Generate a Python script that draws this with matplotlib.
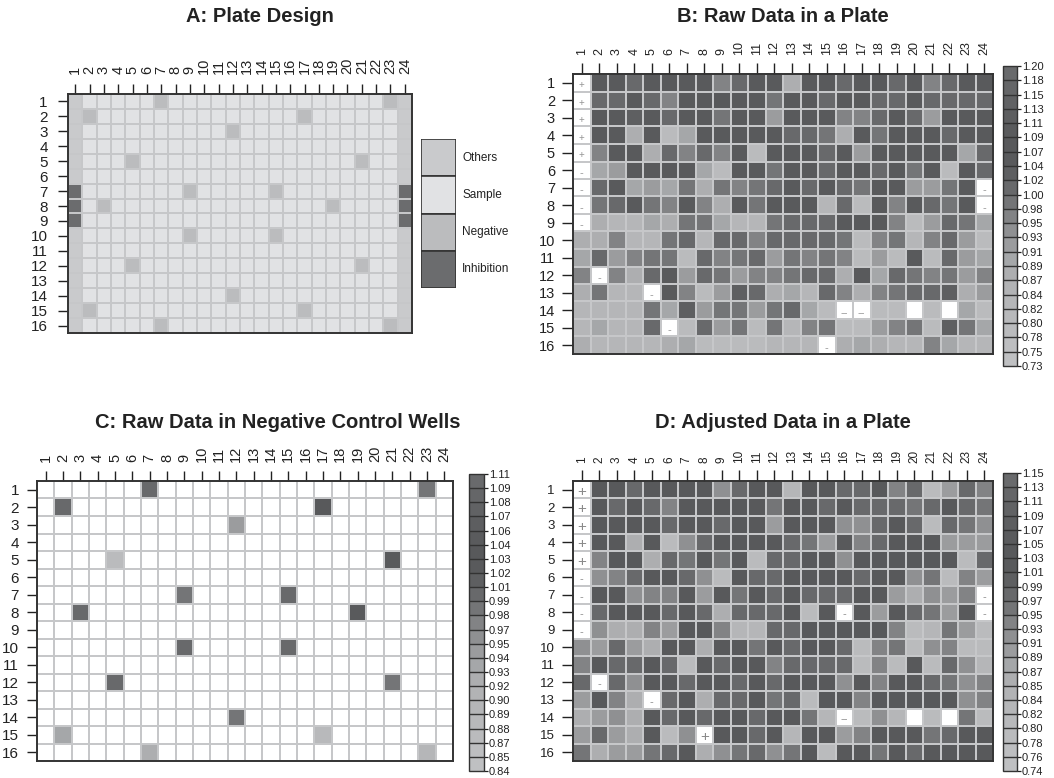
import numpy as np
import matplotlib
matplotlib.use("Agg")
import matplotlib.pyplot as plt
from matplotlib.colors import ListedColormap, BoundaryNorm
from matplotlib.patches import Rectangle

plt.rcParams['font.family'] = ['Liberation Sans', 'DejaVu Sans']
TXT = '#222222'

# ---------------- data ----------------
row_labels = [str(i) for i in range(1, 17)]
col_labels = [str(i) for i in range(1, 25)]

# plate design
design_names = ["Others", "Sample", "Negative", "Inhibition"]
other_cols = [1, 24]
inhibition_rows = [7, 8, 9]
neg_rows = [1, 1, 2, 2, 3, 5, 5, 7, 7, 8, 8, 10, 10, 12, 12, 14, 15, 15, 16, 16]
neg_cols = [7, 23, 2, 17, 12, 5, 21, 9, 15, 3, 19, 9, 15, 5, 21, 12, 2, 17, 7, 23]

# negative control readings (same wells as neg_rows / neg_cols)
neg_values = [1.00, 0.985, 1.00, 1.03, 0.945, 0.875, 1.025, 0.985, 1.00, 0.995,
              1.02, 1.00, 0.995, 1.005, 0.98, 0.985, 0.935, 0.885, 0.925, 0.895]

nan = np.nan
raw_values = [
    [nan, 1.06, 1.05, 1.01, 1.06, 1.07, 1.04, 1.05, 0.96, 1.01, 1.06, 1.05, 0.88, 1.06, 1.05, 1.01, 1.06, 1.07, 1.01, 1.05, 0.96, 1.01, 1.05, 1.06],
    [nan, 1.01, 1.01, 1.06, 1.01, 0.96, 1.05, 1.06, 1.07, 1.05, 1.06, 0.99, 1.05, 1.06, 1.01, 1.05, 1.06, 1.01, 1.01, 1.05, 1.01, 1.01, 1.01, 1.01],
    [nan, 1.05, 1.06, 1.03, 1.05, 1.01, 1.06, 1.05, 0.99, 1.05, 1.06, 0.92, 1.05, 1.06, 1.05, 0.96, 0.96, 1.01, 1.06, 1.01, 0.92, 1.05, 1.06, 1.05],
    [nan, 1.06, 1.05, 0.88, 1.06, 0.79, 0.90, 1.05, 1.06, 1.05, 1.06, 1.05, 1.01, 1.01, 0.99, 0.88, 1.06, 0.99, 1.05, 1.06, 1.05, 1.01, 1.06, 1.05],
    [nan, 0.96, 1.05, 1.06, 0.88, 1.01, 0.96, 1.01, 0.96, 1.06, 0.79, 1.05, 1.06, 1.05, 1.01, 1.06, 0.92, 1.05, 1.06, 1.05, 1.06, 1.05, 0.90, 1.01],
    [nan, 0.90, 0.92, 1.05, 1.06, 1.05, 1.06, 0.90, 0.79, 1.05, 1.06, 0.99, 1.05, 1.06, 1.01, 1.05, 1.06, 1.01, 1.05, 0.99, 1.06, 0.79, 1.05, 1.01],
    [nan, 1.01, 1.06, 0.90, 0.92, 0.90, 0.99, 0.88, 0.99, 0.96, 0.99, 1.01, 1.05, 1.01, 1.06, 1.01, 0.99, 1.05, 1.06, 0.92, 0.92, 0.99, 1.05, nan],
    [nan, 0.99, 1.01, 1.06, 0.99, 0.96, 1.05, 0.96, 0.88, 1.06, 0.99, 1.05, 1.06, 1.05, 0.83, 1.01, 0.79, 1.06, 0.96, 1.05, 1.01, 0.99, 1.06, nan],
    [nan, 0.88, 0.83, 0.83, 0.90, 0.88, 0.99, 0.99, 0.90, 0.83, 0.83, 0.99, 1.01, 1.00, 1.01, 1.05, 1.06, 1.05, 0.96, 0.79, 0.92, 1.01, 0.99, 0.90],
    [0.88, 0.88, 0.96, 0.83, 0.83, 0.99, 1.01, 0.83, 1.00, 1.01, 0.96, 1.01, 1.00, 1.01, 1.01, 0.99, 0.79, 0.96, 0.99, 0.83, 0.96, 1.01, 0.92, 0.79],
    [0.90, 1.00, 0.92, 0.96, 0.99, 0.99, 0.79, 1.00, 0.96, 0.99, 1.00, 0.92, 0.99, 0.96, 0.99, 0.96, 0.79, 0.92, 0.79, 1.06, 0.79, 1.00, 0.92, 0.90],
    [0.96, nan, 0.96, 0.88, 1.01, 1.06, 0.92, 1.00, 0.99, 0.92, 0.96, 0.96, 0.99, 1.01, 1.00, 0.88, 1.06, 0.90, 1.00, 0.99, 0.96, 0.99, 0.92, 0.96],
    [0.88, 0.99, 0.83, 0.83, nan, 1.06, 0.96, 0.79, 0.92, 1.03, 1.01, 0.88, 0.90, 0.83, 1.01, 0.96, 0.88, 0.96, 0.99, 1.01, 1.01, 1.03, 0.88, 0.92],
    [0.83, 0.83, 0.83, 0.83, 0.99, 0.90, 1.03, 0.92, 0.99, 0.99, 0.92, 0.99, 1.00, 0.90, 0.79, nan, nan, 0.79, 0.79, nan, 0.79, nan, 0.90, 0.79],
    [0.83, 0.90, 0.83, 0.83, 1.00, nan, 0.79, 1.01, 0.92, 0.99, 0.79, 0.99, 0.83, 0.96, 0.99, 0.79, 0.79, 0.92, 0.96, 0.99, 0.79, 1.03, 0.99, 0.90],
    [0.88, 0.83, 0.83, 0.83, 0.83, 0.88, 0.90, 0.79, 0.79, 0.79, 0.79, 0.83, 0.83, 0.83, nan, 0.88, 0.90, 0.88, 0.83, 0.83, 0.96, 0.90, 0.83, 0.83],
]

adj_values = [
    [nan, 1.04, 1.03, 0.98, 1.04, 1.03, 1.04, 1.03, 0.92, 0.98, 1.04, 1.03, 0.83, 1.04, 1.03, 0.98, 0.98, 1.04, 0.94, 0.975, 0.79, 0.895, 0.98, 0.94],
    [nan, 1.04, 0.98, 1.04, 0.98, 0.94, 1.03, 1.04, 1.03, 1.04, 1.03, 0.96, 1.04, 1.03, 0.98, 1.04, 0.98, 0.98, 0.98, 0.96, 0.98, 1.04, 0.98, 0.96],
    [nan, 1.04, 1.03, 1.04, 1.03, 0.98, 1.04, 1.03, 0.98, 1.04, 1.03, 0.895, 1.04, 1.03, 1.04, 0.92, 0.92, 0.98, 1.04, 0.98, 0.79, 0.98, 0.96, 0.92],
    [nan, 1.04, 1.03, 0.86, 1.04, 0.79, 0.92, 0.98, 1.04, 1.03, 1.04, 1.03, 0.98, 0.96, 0.895, 1.04, 0.94, 0.98, 1.04, 1.03, 1.04, 0.895, 0.895, 0.895],
    [nan, 0.94, 1.04, 1.03, 0.86, 0.98, 0.96, 1.04, 0.96, 1.04, 0.79, 0.98, 0.98, 1.04, 1.03, 0.92, 1.04, 1.03, 1.04, 1.03, 1.04, 1.03, 0.79, 0.98],
    [nan, 0.92, 0.94, 0.98, 1.04, 1.03, 0.98, 0.92, 0.79, 1.04, 0.98, 0.98, 1.04, 1.03, 1.04, 1.03, 0.98, 1.04, 1.03, 0.92, 0.96, 0.79, 0.94, 0.895],
    [nan, 1.04, 1.03, 0.92, 0.94, 0.94, 1.04, 0.895, 1.04, 0.96, 1.04, 0.98, 1.04, 0.98, 0.98, 0.98, 1.04, 1.03, 0.895, 0.86, 0.92, 0.895, 0.94, nan],
    [nan, 0.98, 1.04, 1.03, 1.04, 0.98, 1.04, 0.98, 0.86, 0.98, 0.975, 0.98, 1.04, 0.79, 1.04, nan, 1.04, 0.895, 1.04, 0.975, 0.96, 0.895, 1.03, nan],
    [nan, 0.92, 0.86, 0.86, 0.94, 0.895, 1.04, 1.03, 0.94, 0.83, 0.83, 0.98, 0.98, 1.04, 1.03, 1.04, 1.03, 1.04, 0.94, 0.79, 0.83, 0.96, 0.895, 0.79],
    [0.92, 0.895, 0.98, 0.895, 0.86, 1.04, 1.03, 0.86, 1.04, 1.03, 0.96, 1.04, 0.98, 1.04, 1.03, 0.98, 0.79, 0.94, 0.96, 0.79, 0.92, 0.94, 0.79, 0.79],
    [0.94, 1.04, 0.975, 0.98, 1.04, 0.98, 0.79, 1.04, 0.98, 1.03, 1.04, 0.94, 0.98, 0.98, 0.98, 0.98, 0.79, 0.94, 0.79, 1.04, 0.79, 0.98, 0.92, 0.83],
    [0.98, nan, 0.98, 0.92, 1.04, 1.03, 0.98, 1.04, 1.03, 0.98, 1.04, 0.975, 1.04, 1.03, 1.04, 0.92, 1.04, 0.94, 1.04, 1.03, 0.98, 0.96, 0.92, 0.94],
    [0.895, 1.04, 0.94, 0.86, nan, 0.98, 1.04, 0.86, 0.98, 0.98, 1.04, 0.96, 0.98, 0.79, 1.04, 1.03, 0.94, 1.04, 1.03, 1.04, 1.03, 1.04, 0.92, 0.94],
    [0.86, 0.895, 0.92, 0.86, 1.04, 0.98, 1.04, 0.975, 1.04, 1.03, 0.98, 1.04, 1.03, 0.96, 0.83, nan, 0.79, 0.92, 0.83, nan, 0.79, nan, 0.96, 0.79],
    [0.895, 0.98, 0.895, 0.86, 1.04, 0.79, 0.92, nan, 1.04, 1.03, 0.98, 1.04, 0.83, 1.04, 1.03, 0.895, 0.94, 1.04, 1.03, 1.04, 0.96, 0.98, 1.04, 1.03],
    [0.96, 0.86, 0.895, 0.895, 0.96, 0.975, 1.04, 0.86, 0.92, 0.96, 0.98, 0.92, 0.96, 1.04, 0.79, 1.04, 1.03, 0.96, 1.04, 0.98, 1.04, 1.03, 1.04, 1.03],
]

# flagged wells: (row, col, mark)
raw_marks = ([(r, 1, '+') for r in range(1, 6)] + [(r, 1, '-') for r in range(6, 10)] +
             [(12, 2, '-'), (13, 5, '-'), (15, 6, '-'), (14, 16, '--'), (14, 17, '--'),
              (16, 15, '-'), (7, 24, '-'), (8, 24, '-')])
adj_marks = ([(r, 1, '+') for r in range(1, 6)] + [(r, 1, '-') for r in range(6, 10)] +
             [(12, 2, '-'), (13, 5, '-'), (15, 8, '+'), (8, 16, '-'), (14, 16, '--'),
              (7, 24, '-'), (8, 24, '-')])

# colour-key boundaries / labels
raw_bounds = ["0.73", "0.75", "0.78", "0.80", "0.82", "0.84", "0.87", "0.89", "0.91", "0.93", "0.95",
              "0.98", "1.00", "1.02", "1.04", "1.07", "1.09", "1.11", "1.13", "1.15", "1.18", "1.20"]
neg_bounds = ["0.84", "0.85", "0.87", "0.88", "0.89", "0.90", "0.92", "0.93", "0.94", "0.95", "0.97",
              "0.98", "0.99", "1.01", "1.02", "1.03", "1.04", "1.06", "1.07", "1.08", "1.09", "1.11"]
adj_bounds = ["0.74", "0.76", "0.78", "0.80", "0.82", "0.84", "0.85", "0.87", "0.89", "0.91", "0.93",
              "0.95", "0.97", "0.99", "1.01", "1.03", "1.05", "1.07", "1.09", "1.11", "1.13", "1.15"]

# ---------------- style ----------------
ramp = ['#bfc0c2', '#bdbec0', '#babbbd', '#b8b9bb', '#b5b6b8', '#b2b3b5', '#adaeb0',
        '#a5a7a9', '#9b9c9e', '#8f9092', '#828385', '#747577', '#68696b', '#5e5f61',
        '#595a5c', '#58595b', '#5a5b5d', '#5d5e60', '#616264', '#656668', '#696a6c']
design_colors = ['#c9cacc', '#e1e2e4', '#bbbcbe', '#6b6c6e']
GRID = '#c6c7c9'
TITLE_FS = 14.5

W, H = 1054, 778
fig = plt.figure(figsize=(W / 100, H / 100), dpi=100)


def ax_px(l, t, r, b):
    return fig.add_axes([l / W, 1 - b / H, (r - l) / W, (b - t) / H])


def setup_plate(ax, fs_row, fs_col, tick_len, pad_row, pad_col):
    ax.set_xlim(0.5, 24.5)
    ax.set_ylim(16.5, 0.5)
    ax.xaxis.tick_top()
    ax.set_xticks(range(1, 25))
    ax.set_xticklabels(col_labels, rotation=90, fontsize=fs_col)
    ax.set_yticks(range(1, 17))
    ax.set_yticklabels(row_labels, fontsize=fs_row)
    ax.tick_params(length=tick_len, width=1.0, color=TXT, labelcolor=TXT)
    ax.tick_params(axis='y', pad=pad_row)
    ax.tick_params(axis='x', pad=pad_col)
    for s in ax.spines.values():
        s.set_color('#333333')
        s.set_linewidth(1.4)


def draw_mesh(ax, values, cmap, norm):
    m = np.ma.masked_invalid(np.asarray(values, dtype=float))
    ax.pcolormesh(np.arange(25) + 0.5, np.arange(17) + 0.5, m, cmap=cmap, norm=norm,
                  edgecolors=GRID, linewidth=1.1)


def draw_colorbar(cax, cmap, bounds_txt):
    b = [float(v) for v in bounds_txt]
    norm = BoundaryNorm(b, len(b) - 1)
    sm = plt.cm.ScalarMappable(norm=norm, cmap=cmap)
    cb = fig.colorbar(sm, cax=cax, boundaries=b, ticks=b, spacing='uniform', drawedges=True)
    cb.ax.set_yticklabels(bounds_txt, fontsize=8)
    cb.outline.set_edgecolor('#333333')
    cb.outline.set_linewidth(1.0)
    cb.dividers.set_color('#333333')
    cb.dividers.set_linewidth(1.0)
    cax.tick_params(length=3, width=0.9, pad=0.5, color=TXT, labelcolor=TXT)
    return norm


def gray_cmap():
    cm = ListedColormap(ramp)
    cm.set_bad('white')
    return cm


# ---------------- A: plate design ----------------
axA = ax_px(68, 94, 412, 333)
design = np.ones((16, 24), dtype=int)
for c in other_cols:
    design[:, c - 1] = 0
    for r in inhibition_rows:
        design[r - 1, c - 1] = 3
for r, c in zip(neg_rows, neg_cols):
    design[r - 1, c - 1] = 2
cmapA = ListedColormap(design_colors)
axA.pcolormesh(np.arange(25) + 0.5, np.arange(17) + 0.5, design, cmap=cmapA,
               vmin=-0.5, vmax=3.5, edgecolors=GRID, linewidth=1.1)
setup_plate(axA, 11, 10.5, 7, 7.5, 7.5)
fig.text(260 / W, 1 - 16 / H, "A: Plate Design", ha='center', va='center',
         fontsize=TITLE_FS, fontweight='bold', color=TXT)

legA = ax_px(421, 139, 456, 288)
legA.set_xlim(0, 1)
legA.set_ylim(0, 4)
legA.axis('off')
for i, (name, col) in enumerate(zip(design_names, design_colors)):
    y = 3 - i
    legA.add_patch(Rectangle((0, y), 1, 1, facecolor=col, edgecolor='#333333', linewidth=1.2))
    legA.text(1.18, y + 0.5, name, ha='left', va='center', fontsize=8.5, color=TXT,
              clip_on=False)

# ---------------- B: raw data ----------------
cmap = gray_cmap()
caxB = ax_px(1003, 66, 1017, 366)
normB = draw_colorbar(caxB, cmap, raw_bounds)
axB = ax_px(573, 74, 993, 354)
draw_mesh(axB, raw_values, cmap, normB)
setup_plate(axB, 10.5, 9, 8, 5, 6)
for r, c, s in raw_marks:
    axB.text(c, r + 0.15, s, ha='center', va='center',
             fontsize=7 if s == '+' else 8, color='#959595')
fig.text(783 / W, 1 - 16 / H, "B: Raw Data in a Plate", ha='center', va='center',
         fontsize=TITLE_FS, fontweight='bold', color=TXT)

# ---------------- C: negative controls ----------------
caxC = ax_px(469, 474, 484, 771)
normC = draw_colorbar(caxC, cmap, neg_bounds)
axC = ax_px(37, 481, 453, 761)
neg_grid = np.full((16, 24), np.nan)
for r, c, v in zip(neg_rows, neg_cols, neg_values):
    neg_grid[r - 1, c - 1] = v
draw_mesh(axC, neg_grid, cmap, normC)
setup_plate(axC, 11, 10.5, 7, 6, 7)
fig.text(278 / W, 1 - 422 / H, "C: Raw Data in Negative Control Wells", ha='center',
         va='center', fontsize=TITLE_FS, fontweight='bold', color=TXT)

# ---------------- D: adjusted data ----------------
caxD = ax_px(1003, 473, 1017, 771)
normD = draw_colorbar(caxD, cmap, adj_bounds)
axD = ax_px(573, 481, 993, 761)
draw_mesh(axD, adj_values, cmap, normD)
setup_plate(axD, 9.5, 8.5, 8, 5, 5)
for r, c, s in adj_marks:
    axD.text(c, r + 0.12, s, ha='center', va='center',
             fontsize=11 if s == '+' else 8, color='#8a8a8a')
fig.text(783 / W, 1 - 422 / H, "D: Adjusted Data in a Plate", ha='center', va='center',
         fontsize=TITLE_FS, fontweight='bold', color=TXT)

fig.savefig("out.png", dpi=100, facecolor='white')
